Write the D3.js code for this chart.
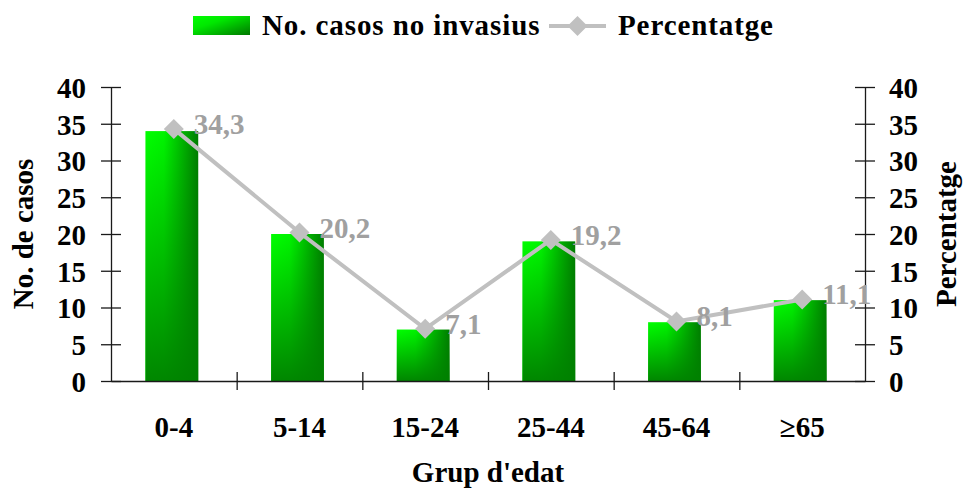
<!DOCTYPE html>
<html>
<head>
<meta charset="utf-8">
<script src="https://cdn.jsdelivr.net/npm/d3@7"></script>
<style>
  body { margin: 0; background: #fff; }
  svg { display: block; }
  text { font-family: "Liberation Serif", "Times New Roman", serif; font-weight: bold; }
</style>
</head>
<body>
<svg id="chart" width="964" height="490"></svg>
<script>
// Non-invasive cases by age group, with the share of each group
const categories = ["0-4", "5-14", "15-24", "25-44", "45-64", "\u226565"];
const cases = [34, 20, 7, 19, 8, 11];
const percentages = [34.3, 20.2, 7.1, 19.2, 8.1, 11.1];
const yTicks = [0, 5, 10, 15, 20, 25, 30, 35, 40];
const barSeriesName = "No. casos no invasius";
const lineSeriesName = "Percentatge";
const leftTitle = "No. de casos";
const rightTitle = "Percentatge";
const xTitle = "Grup d'edat";

const W = 964, H = 490;
const plot = { left: 111, right: 865, top: 87, bottom: 381 };
const FS = 29;
const barShift = -2;
const axisColor = "#1a1a1a";
const lineColor = "#c0c0c0";
const labelColor = "#a0a0a0";

const svg = d3.select("#chart");
const defs = svg.append("defs");

// Horizontal shading: bright green on the left, deep green on the right
const gH = defs.append("linearGradient").attr("id", "barH")
  .attr("x1", 0).attr("y1", 0).attr("x2", 1).attr("y2", 0);
gH.append("stop").attr("offset", "0%").attr("stop-color", "#00ff00");
gH.append("stop").attr("offset", "35%").attr("stop-color", "#00f400");
gH.append("stop").attr("offset", "60%").attr("stop-color", "#00c800");
gH.append("stop").attr("offset", "100%").attr("stop-color", "#007c00");

// Vertical overlay darkening toward the base
const gV = defs.append("linearGradient").attr("id", "barV")
  .attr("x1", 0).attr("y1", 0).attr("x2", 0).attr("y2", 1);
gV.append("stop").attr("offset", "0%").attr("stop-color", "#008000").attr("stop-opacity", 0);
gV.append("stop").attr("offset", "100%").attr("stop-color", "#008000").attr("stop-opacity", 0.95);

// Legend swatch: diagonal sheen
const gD = defs.append("linearGradient").attr("id", "barD")
  .attr("x1", 0).attr("y1", 0).attr("x2", 1).attr("y2", 1);
gD.append("stop").attr("offset", "0%").attr("stop-color", "#00ff00");
gD.append("stop").attr("offset", "35%").attr("stop-color", "#00e800");
gD.append("stop").attr("offset", "100%").attr("stop-color", "#007800");

const x = d3.scaleBand().domain(categories).range([plot.left, plot.right]).paddingInner(0.58).paddingOuter(0.29);
const xEdges = d3.scaleLinear().domain([0, categories.length]).range([plot.left, plot.right]);
const yL = d3.scaleLinear().domain([0, 40]).range([plot.bottom, plot.top]);
const yR = d3.scaleLinear().domain([0, 40]).range([plot.bottom, plot.top]);

// Bars
const bars = svg.append("g").attr("transform", `translate(${barShift},0)`);
bars.selectAll("rect.base").data(cases).join("rect").attr("class", "base")
  .attr("x", (d, i) => x(categories[i]))
  .attr("y", d => yL(d))
  .attr("width", x.bandwidth())
  .attr("height", d => yL(0) - yL(d))
  .attr("fill", "url(#barH)");
bars.selectAll("rect.shade").data(cases).join("rect").attr("class", "shade")
  .attr("x", (d, i) => x(categories[i]))
  .attr("y", d => yL(d))
  .attr("width", x.bandwidth())
  .attr("height", d => yL(0) - yL(d))
  .attr("fill", "url(#barV)");

// Axes
function styleAxis(g) {
  g.select(".domain").attr("stroke", axisColor).attr("stroke-width", 1.3);
  g.selectAll(".tick line").attr("stroke", axisColor).attr("stroke-width", 1.3);
  g.selectAll(".tick text").attr("fill", "#000").style("font-size", FS + "px")
    .style("font-family", "'Liberation Serif', 'Times New Roman', serif").style("font-weight", "bold");
}

const axL = svg.append("g").attr("transform", `translate(${plot.left},0)`)
  .call(d3.axisLeft(yL).tickValues(yTicks).tickSize(10).tickPadding(15).tickSizeOuter(0));
axL.selectAll(".tick line").attr("x1", 10);
styleAxis(axL);
axL.selectAll(".tick text").attr("dy", "0.36em");

const axR = svg.append("g").attr("transform", `translate(${plot.right},0)`)
  .call(d3.axisRight(yR).tickValues(yTicks).tickSize(10).tickPadding(14).tickSizeOuter(0));
axR.selectAll(".tick line").attr("x1", -10);
styleAxis(axR);
axR.selectAll(".tick text").attr("dy", "0.36em");

// Category boundary ticks along the base
const axB = svg.append("g").attr("transform", `translate(0,${plot.bottom})`)
  .call(d3.axisBottom(xEdges).tickValues(d3.range(1, categories.length)).tickSize(9).tickFormat("").tickSizeOuter(0));
axB.selectAll(".tick line").attr("y1", -9);
styleAxis(axB);

// Category labels
const axC = svg.append("g").attr("transform", `translate(0,${plot.bottom})`)
  .call(d3.axisBottom(x).tickSize(0).tickPadding(56));
axC.select(".domain").remove();
styleAxis(axC);
axC.selectAll(".tick text").attr("dy", "0");

// Percentage line
const cx = i => x(categories[i]) + x.bandwidth() / 2;
const line = d3.line().x((d, i) => cx(i)).y(d => yR(d));
svg.append("path").datum(percentages).attr("d", line)
  .attr("fill", "none").attr("stroke", lineColor).attr("stroke-width", 4);

const diamond = d3.symbol().type(d3.symbolSquare).size(200);
svg.append("g").selectAll("path").data(percentages).join("path")
  .attr("d", diamond)
  .attr("transform", (d, i) => `translate(${cx(i)},${yR(d)}) rotate(45)`)
  .attr("fill", lineColor);

// Value labels
const fmt = v => d3.format(".1f")(v).replace(".", ",");
svg.append("g").selectAll("text").data(percentages).join("text")
  .attr("x", (d, i) => cx(i) + 20)
  .attr("y", d => yR(d) + 5)
  .attr("fill", labelColor)
  .style("font-size", FS + "px")
  .text(fmt);

// Axis titles
svg.append("text").attr("transform", `translate(33,${(plot.top + plot.bottom) / 2}) rotate(-90)`)
  .attr("text-anchor", "middle").style("font-size", FS + "px").text(leftTitle);
svg.append("text").attr("transform", `translate(956,${(plot.top + plot.bottom) / 2}) rotate(-90)`)
  .attr("text-anchor", "middle").style("font-size", FS + "px").text(rightTitle);
svg.append("text").attr("x", (plot.left + plot.right) / 2).attr("y", 482)
  .attr("text-anchor", "middle").style("font-size", FS + "px").text(xTitle);

// Legend
const leg = svg.append("g");
leg.append("rect").attr("x", 193).attr("y", 16).attr("width", 57).attr("height", 19).attr("fill", "url(#barD)");
leg.append("text").attr("x", 262).attr("y", 35).style("font-size", FS + "px")
  .style("letter-spacing", "0.9px").text(barSeriesName);
leg.append("line").attr("x1", 549).attr("x2", 606).attr("y1", 26).attr("y2", 26)
  .attr("stroke", lineColor).attr("stroke-width", 4);
leg.append("path").attr("d", diamond).attr("transform", "translate(577.5,26) rotate(45)").attr("fill", lineColor);
leg.append("text").attr("x", 618).attr("y", 35).style("font-size", FS + "px")
  .style("letter-spacing", "0.9px").text(lineSeriesName);
</script>
</body>
</html>
